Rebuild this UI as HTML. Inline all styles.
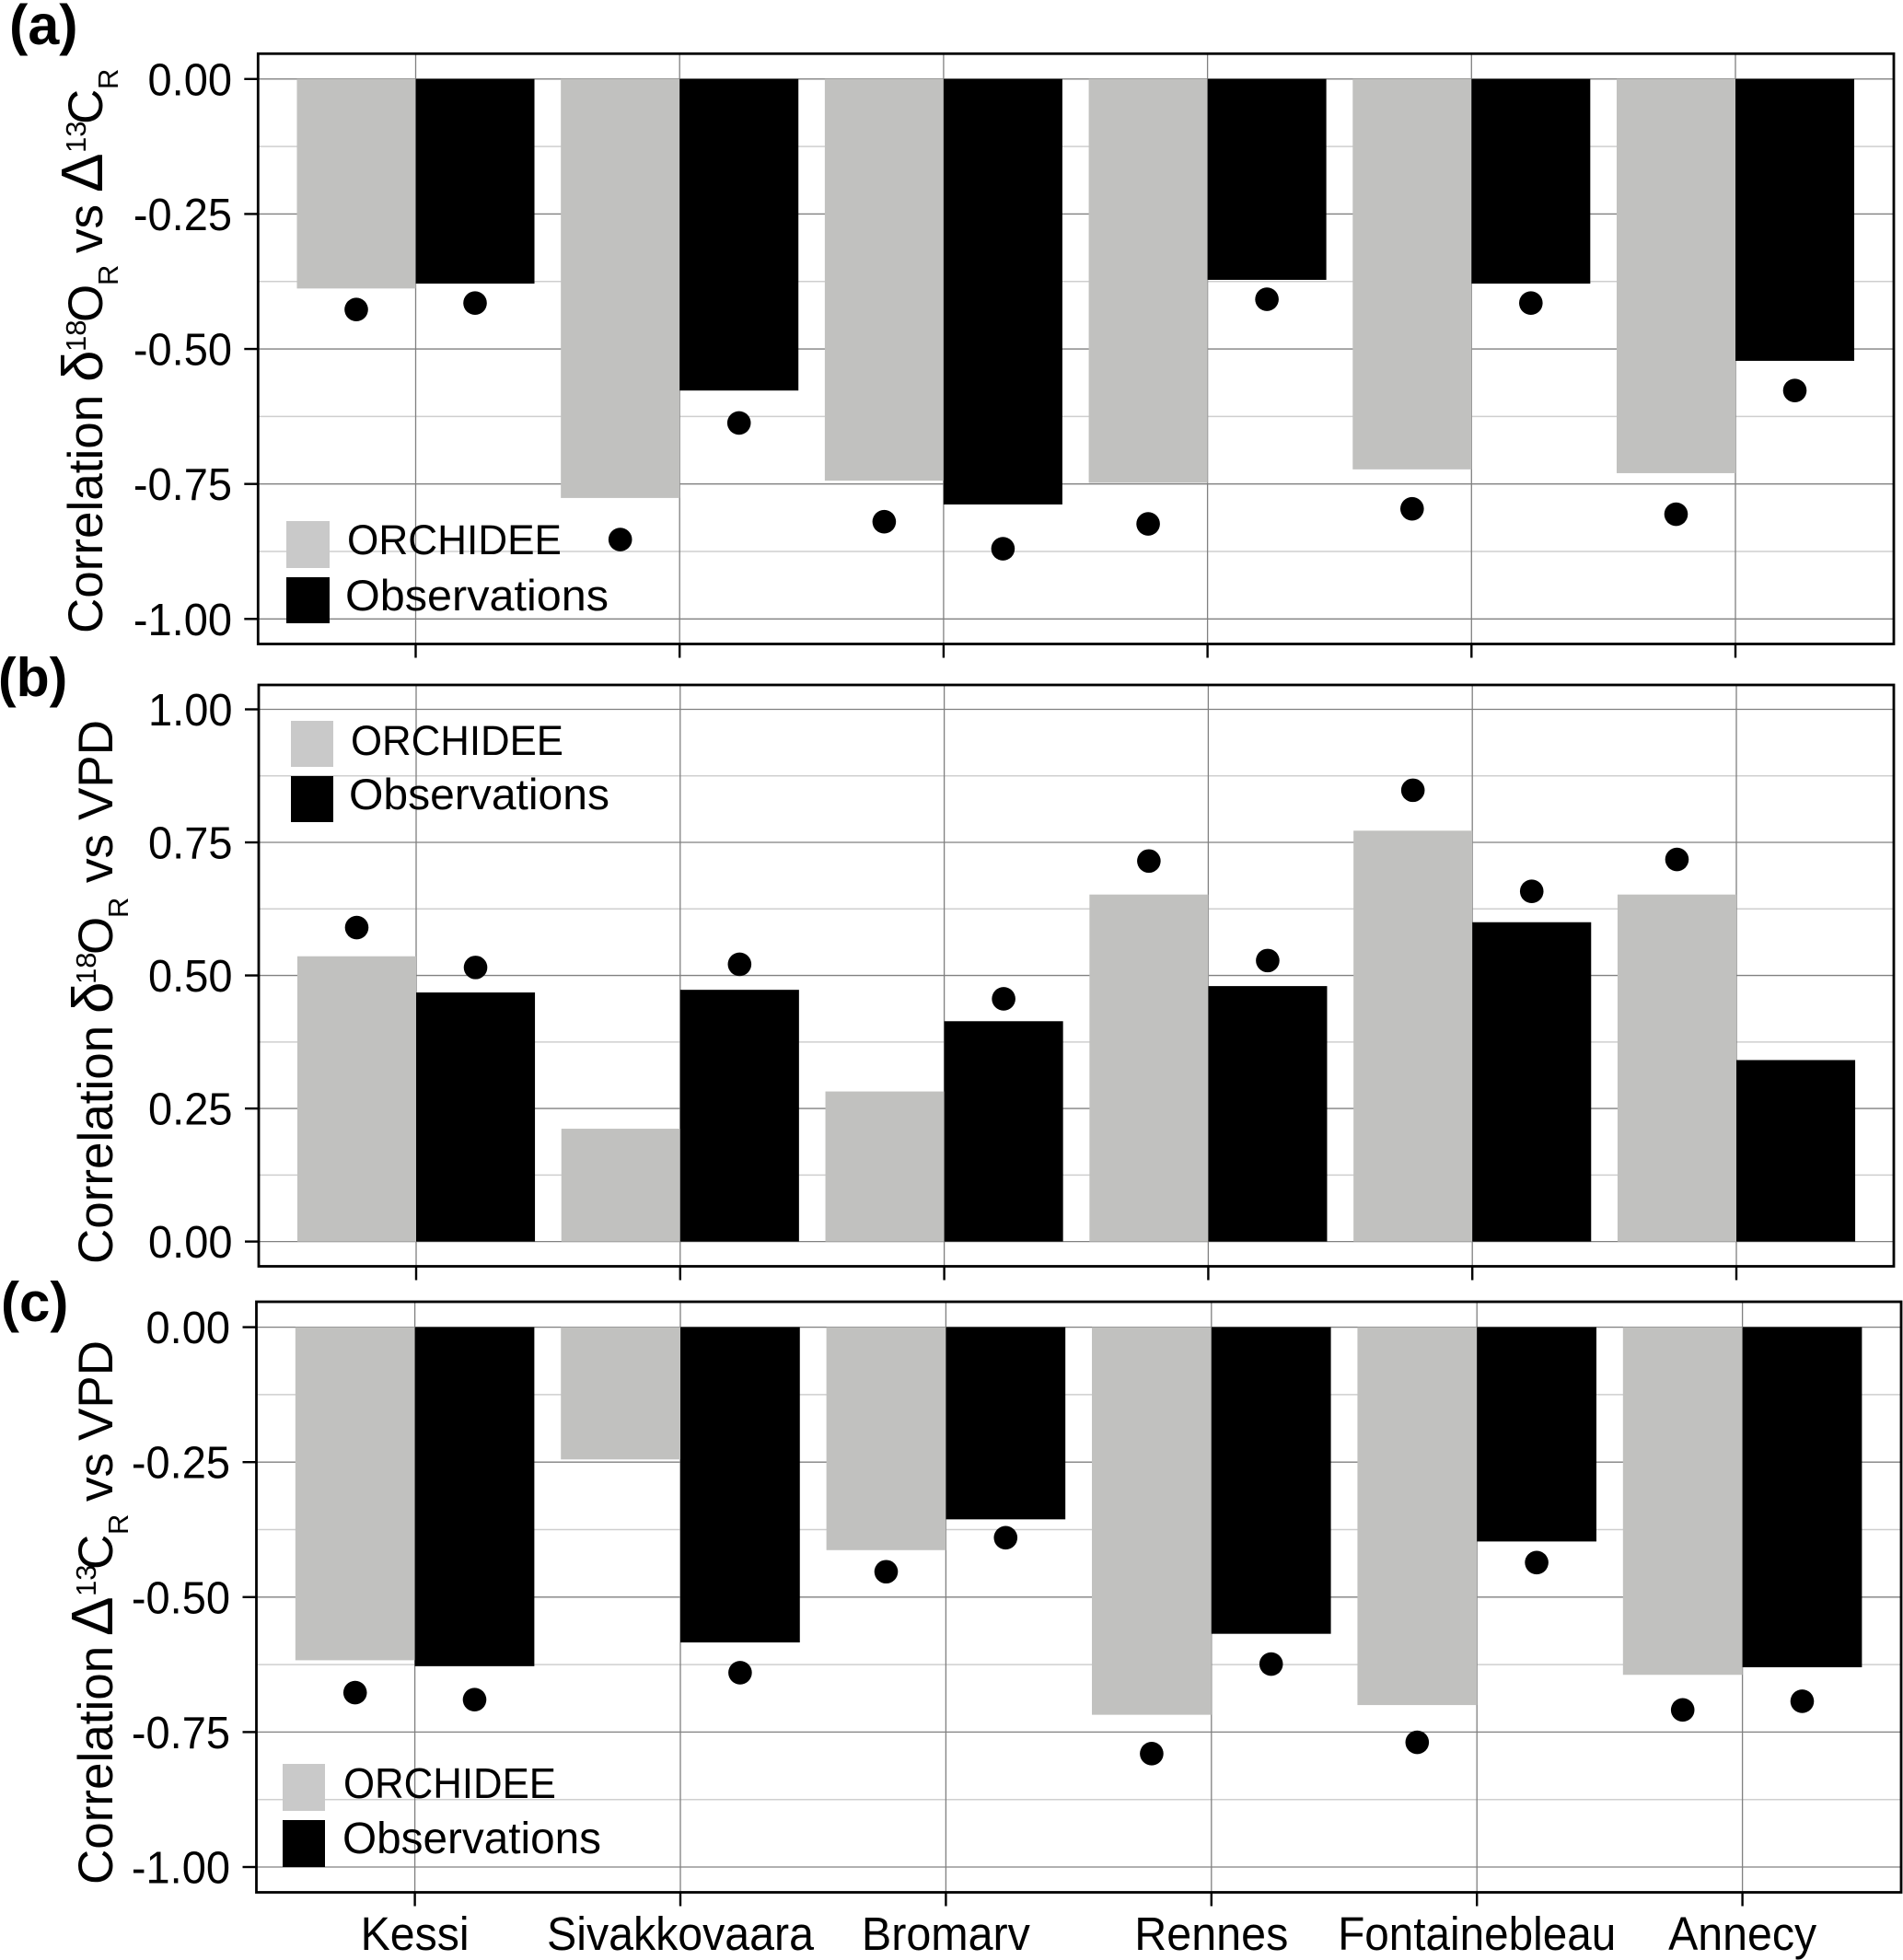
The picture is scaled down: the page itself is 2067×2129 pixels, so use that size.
<!DOCTYPE html>
<html lang="en">
<head>
<meta charset="utf-8">
<title>Correlation bars</title>
<style>
html,body{margin:0;padding:0;background:#fff;}
svg{display:block;}
text{font-family:"Liberation Sans",sans-serif;fill:#000;}
</style>
</head>
<body>
<svg id="chart" xmlns="http://www.w3.org/2000/svg" width="2067" height="2129" viewBox="0 0 2067 2129">
<rect x="0" y="0" width="2067" height="2129" fill="#fff"/>
<g id="plots"></g>

<text x="10" y="48" font-size="61" font-weight="bold">(a)</text>
<text x="-2" y="756" font-size="59" font-weight="bold">(b)</text>
<text x="1" y="1435" font-size="60" font-weight="bold">(c)</text>

<text transform="translate(111,688) rotate(-90)" font-size="53">Correlation <tspan x="273" font-size="62">δ</tspan><tspan x="306" font-size="31" dy="-18">18</tspan><tspan x="338" dy="18">O</tspan><tspan x="378" font-size="31" dy="17">R</tspan><tspan x="413" dy="-17">vs</tspan> <tspan x="479" font-size="64">Δ</tspan><tspan x="522" font-size="31" dy="-18">13</tspan><tspan x="553" dy="18">C</tspan><tspan x="591" font-size="31" dy="17">R</tspan></text>
<text transform="translate(122,1373) rotate(-90)" font-size="53">Correlation <tspan x="272" font-size="62">δ</tspan><tspan x="304" font-size="31" dy="-18">18</tspan><tspan x="336" dy="18">O</tspan><tspan x="376" font-size="31" dy="17">R</tspan><tspan x="414" dy="-17">vs</tspan> <tspan x="482">VPD</tspan></text>
<text transform="translate(122,2047) rotate(-90)" font-size="53">Correlation <tspan x="270" font-size="64">Δ</tspan><tspan x="313" font-size="31" dy="-18">13</tspan><tspan x="342" dy="18">C</tspan><tspan x="380" font-size="31" dy="17">R</tspan><tspan x="416" dy="-17">vs</tspan> <tspan x="482">VPD</tspan></text>

<g>
<rect x="311" y="566" width="47" height="51" fill="#c9c9c9"/>
<rect x="311" y="627" width="47" height="50" fill="#000"/>
<text x="377" y="602" font-size="45" textLength="233" lengthAdjust="spacingAndGlyphs">ORCHIDEE</text>
<text x="375" y="663" font-size="47" textLength="286" lengthAdjust="spacingAndGlyphs">Observations</text>
</g>
<g>
<rect x="316" y="783" width="46" height="50" fill="#c9c9c9"/>
<rect x="316" y="843" width="46" height="50" fill="#000"/>
<text x="381" y="820" font-size="45" textLength="231" lengthAdjust="spacingAndGlyphs">ORCHIDEE</text>
<text x="379" y="879" font-size="47" textLength="283" lengthAdjust="spacingAndGlyphs">Observations</text>
</g>
<g>
<rect x="307" y="1916" width="46" height="51" fill="#c9c9c9"/>
<rect x="307" y="1977" width="46" height="51" fill="#000"/>
<text x="373" y="1953" font-size="46" textLength="231" lengthAdjust="spacingAndGlyphs">ORCHIDEE</text>
<text x="372" y="2013" font-size="48" textLength="281" lengthAdjust="spacingAndGlyphs">Observations</text>
</g>
</svg>
<script>
const categories = ["Kessi", "Sivakkovaara", "Bromarv", "Rennes", "Fontainebleau", "Annecy"];

const barsOrchideeA = [-0.388, -0.776, -0.744, -0.748, -0.723, -0.730];
const barsObservedA = [-0.379, -0.577, -0.788, -0.372, -0.379, -0.522];
const dotsOrchideeA = [-0.427, -0.853, -0.820, -0.824, -0.796, -0.806];
const dotsObservedA = [-0.415, -0.637, -0.870, -0.408, -0.415, -0.577];

const barsOrchideeB = [0.536, 0.212, 0.282, 0.652, 0.772, 0.652];
const barsObservedB = [0.468, 0.473, 0.414, 0.480, 0.600, 0.341];
const dotsOrchideeB = [0.590, null, null, 0.715, 0.848, 0.718];
const dotsObservedB = [0.515, 0.521, 0.456, 0.528, 0.658, null];

const barsOrchideeC = [-0.617, -0.245, -0.413, -0.718, -0.700, -0.644];
const barsObservedC = [-0.628, -0.584, -0.356, -0.568, -0.397, -0.630];
const dotsOrchideeC = [-0.677, null, -0.453, -0.790, -0.769, -0.709];
const dotsObservedC = [-0.690, -0.640, -0.390, -0.624, -0.436, -0.693];

const majorTicksNegative = [0, -0.25, -0.5, -0.75, -1];
const tickLabelsNegative = ["0.00", "-0.25", "-0.50", "-0.75", "-1.00"];
const minorTicksNegative = [-0.125, -0.375, -0.625, -0.875];
const majorTicksPositive = [1, 0.75, 0.5, 0.25, 0];
const tickLabelsPositive = ["1.00", "0.75", "0.50", "0.25", "0.00"];
const minorTicksPositive = [0.875, 0.625, 0.375, 0.125];

const NS = "http://www.w3.org/2000/svg";
const root = document.getElementById("plots");

function make(parent, tag, attrs) {
  const el = document.createElementNS(NS, tag);
  for (const k in attrs) el.setAttribute(k, attrs[k]);
  parent.appendChild(el);
  return el;
}

function drawPanel(cfg) {
  const g = make(root, "g", {});
  
  

  const y = v => cfg.y0 + (cfg.y1 - cfg.y0) * (v - cfg.v0) / (cfg.v1 - cfg.v0);
  const x = i => cfg.xFirst + cfg.xStep * i;
  const bw = cfg.xStep * 0.45;

  cfg.minor.forEach(v => {
    const el = make(g, "line", {x1: cfg.left, x2: cfg.right, y1: y(v), y2: y(v), stroke: "#cfcfcf", "stroke-width": 1.5});
    
    
  });
  cfg.major.forEach(v => {
    const el = make(g, "line", {x1: cfg.left, x2: cfg.right, y1: y(v), y2: y(v), stroke: "#808080", "stroke-width": 1.3});
    
    
  });
  categories.forEach((c, i) => {
    const el = make(g, "line", {x1: x(i), x2: x(i), y1: cfg.top, y2: cfg.bottom, stroke: "#808080", "stroke-width": 1.3});
    
    
  });

  const base = y(0);
  categories.forEach((c, i) => {
    const a = y(cfg.barsOrchidee[i]);
    const r1 = make(g, "rect", {x: x(i) - bw, y: Math.min(a, base), width: bw, height: Math.abs(a - base), fill: "#c1c1bf"});
    
    
    const b = y(cfg.barsObserved[i]);
    const r2 = make(g, "rect", {x: x(i), y: Math.min(b, base), width: bw, height: Math.abs(b - base), fill: "#000"});
    
    
  });

  categories.forEach((c, i) => {
    if (cfg.dotsOrchidee[i] !== null) {
      const d1 = make(g, "circle", {cx: x(i) - bw / 2, cy: y(cfg.dotsOrchidee[i]), r: 12.8, fill: "#000"});
      
      
    }
    if (cfg.dotsObserved[i] !== null) {
      const d2 = make(g, "circle", {cx: x(i) + bw / 2, cy: y(cfg.dotsObserved[i]), r: 12.8, fill: "#000"});
      
      
    }
  });

  const frame = make(g, "rect", {x: cfg.left, y: cfg.top, width: cfg.right - cfg.left, height: cfg.bottom - cfg.top, fill: "none", stroke: "#000", "stroke-width": 2.8});
  
  

  cfg.major.forEach((v, i) => {
    const t = make(g, "line", {x1: cfg.left - 15, x2: cfg.left, y1: y(v), y2: y(v), stroke: "#000", "stroke-width": 2.4});
    
    
    const l = make(g, "text", {transform: "translate(" + cfg.labelX + "," + (y(v) + 17.5) + ") scale(1,1.05)", "text-anchor": "end", "font-size": 47});
    l.textContent = cfg.labels[i];
    
    
  });

  categories.forEach((c, i) => {
    const t = make(g, "line", {x1: x(i), x2: x(i), y1: cfg.bottom, y2: cfg.bottom + 15, stroke: "#000", "stroke-width": 2.4});
    
    
    if (cfg.labelFit) {
      const fit = cfg.labelFit[c];
      const l = make(g, "text", {transform: "translate(" + (x(i) - fit / 2) + ",2118) scale(1,1.09)", "font-size": 47, textLength: fit, lengthAdjust: "spacingAndGlyphs"});
      l.textContent = c;
      
      
    }
  });
}

drawPanel({id: "a", left: 280.3, right: 2057, top: 58.3, bottom: 699.5, y0: 85.8, y1: 672.3, v0: 0, v1: -1,
  xFirst: 451.5, xStep: 286.7, labelX: 252, major: majorTicksNegative, labels: tickLabelsNegative, minor: minorTicksNegative,
  barsOrchidee: barsOrchideeA, barsObserved: barsObservedA, dotsOrchidee: dotsOrchideeA, dotsObserved: dotsObservedA});

drawPanel({id: "b", left: 281, right: 2057, top: 744, bottom: 1375.5, y0: 1348.6, y1: 770.5, v0: 0, v1: 1,
  xFirst: 452, xStep: 286.8, labelX: 252.5, major: majorTicksPositive, labels: tickLabelsPositive, minor: minorTicksPositive,
  barsOrchidee: barsOrchideeB, barsObserved: barsObservedB, dotsOrchidee: dotsOrchideeB, dotsObserved: dotsObservedB});

drawPanel({id: "c", left: 278.5, right: 2065, top: 1414, bottom: 2055.5, y0: 1441.6, y1: 2028, v0: 0, v1: -1,
  xFirst: 450.6, xStep: 288.4, labelX: 250, major: majorTicksNegative, labels: tickLabelsNegative, minor: minorTicksNegative,
  barsOrchidee: barsOrchideeC, barsObserved: barsObservedC, dotsOrchidee: dotsOrchideeC, dotsObserved: dotsObservedC,
  labelFit: {Kessi: 118, Sivakkovaara: 290, Bromarv: 183, Rennes: 167, Fontainebleau: 302, Annecy: 161}});
</script>
</body>
</html>
